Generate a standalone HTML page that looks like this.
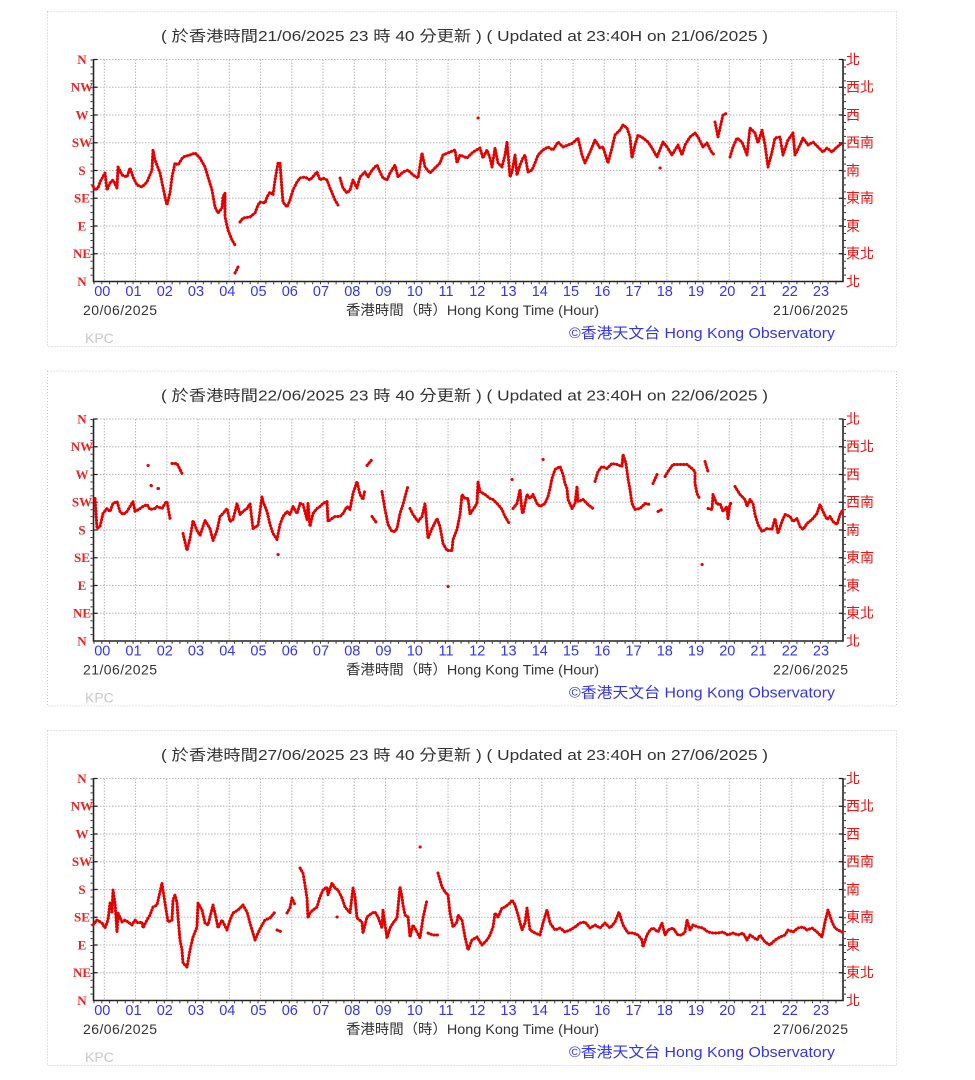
<!DOCTYPE html>
<html>
<head>
<meta charset="utf-8">
<style>
html,body{margin:0;padding:0;background:#fff;}
svg{display:block;}
.t{font-family:"Liberation Sans","Noto Sans CJK TC",sans-serif;}
.title{font-size:15px;fill:#333;}
.hr{font-size:14.5px;fill:#3434f0;text-anchor:middle;}
.dt{font-size:14px;fill:#333;}
.lab{font-size:14px;fill:#333;}
.cp{font-size:15px;fill:#3434f0;}
.kpc{font-size:14px;fill:#c8c8c8;}
.ll{font-family:"Liberation Serif",serif;font-weight:bold;font-size:13px;fill:#f02020;text-anchor:middle;}
.rl{font-family:"Noto Sans CJK TC","WenQuanYi Zen Hei",sans-serif;font-size:14px;fill:#f01010;}
.grid{stroke:#b8b8b8;stroke-width:1;stroke-dasharray:1.5 1.5;fill:none;}
.ax{stroke:#222;stroke-width:1.6;fill:none;}
.d{fill:none;stroke:#e60000;stroke-width:3;stroke-linecap:round;stroke-linejoin:round;stroke-dasharray:0.5 2.6;}
.h{fill:none;stroke:#ff9c9c;stroke-width:4.6;stroke-linejoin:round;opacity:0.3;}
.o{fill:none;stroke:#e60000;stroke-width:3;stroke-linecap:round;}
</style>
</head>
<body>
<svg width="975" height="1080" viewBox="0 0 975 1080" xmlns="http://www.w3.org/2000/svg">
<defs>
<g id="frame">
<rect x="47.5" y="11.5" width="849" height="335" fill="none" stroke="#c8c8c8" stroke-width="1" stroke-dasharray="1 2"/>
<path class="grid" d="M94 59.5H843M94 87.25H843M94 115H843M94 142.75H843M94 170.5H843M94 198.25H843M94 226H843M94 253.75H843"/>
<path class="grid" d="M104.3 59.5V281M135.55 59.5V281M166.8 59.5V281M198.05 59.5V281M229.3 59.5V281M260.55 59.5V281M291.8 59.5V281M323.05 59.5V281M354.3 59.5V281M385.55 59.5V281M416.8 59.5V281M448.05 59.5V281M479.3 59.5V281M510.55 59.5V281M541.8 59.5V281M573.05 59.5V281M604.3 59.5V281M635.55 59.5V281M666.8 59.5V281M698.05 59.5V281M729.3 59.5V281M760.55 59.5V281M791.8 59.5V281M823.05 59.5V281"/>
<path class="ax" d="M93.5 59V282M843 59V282M93 281.5H843.8"/>
<path stroke="#222" stroke-width="1.2" d="M93.5 59.5h4M93.5 87.25h4M93.5 115h4M93.5 142.75h4M93.5 170.5h4M93.5 198.25h4M93.5 226h4M93.5 253.75h4M843 59.5h-4M843 87.25h-4M843 115h-4M843 142.75h-4M843 170.5h-4M843 198.25h-4M843 226h-4M843 253.75h-4"/>
<line x1="91.5" y1="59.5" x2="91.5" y2="281" stroke="#333" stroke-width="2" stroke-dasharray="1 5.94"/>
<line x1="845" y1="59.5" x2="845" y2="281" stroke="#333" stroke-width="2" stroke-dasharray="1 5.94"/>
<line x1="93.5" y1="283.2" x2="843" y2="283.2" stroke="#333" stroke-width="2" stroke-dasharray="1 6.81"/>
</g>
</defs>

<!-- PANEL 1 -->
<g>
<use href="#frame"/>
<text class="t title" x="161" y="41" textLength="607" lengthAdjust="spacingAndGlyphs">( 於香港時間21/06/2025 23 時 40 分更新 ) ( Updated at 23:40H on 21/06/2025 )</text>
<text class="ll" x="82" y="64">N</text><text class="ll" x="82" y="91.7">NW</text><text class="ll" x="82" y="119.5">W</text><text class="ll" x="82" y="147.2">SW</text><text class="ll" x="82" y="175">S</text><text class="ll" x="82" y="202.7">SE</text><text class="ll" x="82" y="230.5">E</text><text class="ll" x="82" y="258.2">NE</text><text class="ll" x="82" y="286">N</text>
<text class="rl" x="846" y="64.5">北</text><text class="rl" x="846" y="92.2">西北</text><text class="rl" x="846" y="120">西</text><text class="rl" x="846" y="147.7">西南</text><text class="rl" x="846" y="175.5">南</text><text class="rl" x="846" y="203.2">東南</text><text class="rl" x="846" y="231">東</text><text class="rl" x="846" y="258.7">東北</text><text class="rl" x="846" y="286.5">北</text>
<g class="t hr"><text x="102.3" y="296">00</text><text x="133.5" y="296">01</text><text x="164.8" y="296">02</text><text x="196" y="296">03</text><text x="227.3" y="296">04</text><text x="258.5" y="296">05</text><text x="289.8" y="296">06</text><text x="321" y="296">07</text><text x="352.3" y="296">08</text><text x="383.5" y="296">09</text><text x="414.8" y="296">10</text><text x="446" y="296">11</text><text x="477.3" y="296">12</text><text x="508.5" y="296">13</text><text x="539.8" y="296">14</text><text x="571" y="296">15</text><text x="602.3" y="296">16</text><text x="633.5" y="296">17</text><text x="664.8" y="296">18</text><text x="696" y="296">19</text><text x="727.3" y="296">20</text><text x="758.5" y="296">21</text><text x="789.8" y="296">22</text><text x="821" y="296">23</text></g>
<text class="t dt" x="83" y="315" textLength="74">20/06/2025</text>
<text class="t dt" x="773" y="315" textLength="75">21/06/2025</text>
<text class="t lab" x="346" y="315" textLength="253" lengthAdjust="spacingAndGlyphs">香港時間（時）Hong Kong Time (Hour)</text>
<text class="t cp" x="569" y="338" textLength="266" lengthAdjust="spacingAndGlyphs">©香港天文台 Hong Kong Observatory</text>
<text class="t kpc" x="85" y="343">KPC</text>
<path id="d1" class="d" d="M93 186L95 190L98 188L100 182L105 173L107 190L110 183L113 180L117 188L118 167L122 175L127 177L130 168L133 177L137 185L142 187L147 182L152 170L153 150L155 160L160 173L165 197L167 205L170 193L172 177L175 163L178 165L183 157L190 155L195 153L200 158L205 167L208 177L212 190L215 207L218 213L222 208L223 197L225 193L225 217L228 230L232 240L235 245M235 273L238 267M240 222L243 218L250 217L255 213L258 205L260 202L265 203L267 197L270 192L273 195L275 180L278 163L280 163L282 190L283 202L287 207L290 200L293 190L297 182L300 178L305 177L310 180L317 172L320 180L323 178L327 180L330 188L335 200L338 205M340 178L343 188L347 193L350 190L353 180L357 188L360 177L365 172L368 177L372 170L377 165L380 172L383 178L387 180L390 173L395 165L398 177L403 172L408 170L413 175L418 178L422 153L425 167L430 173L435 168L440 163L443 155L450 152L455 150L457 163L460 155L467 158L473 152L480 148L483 158L487 150L490 158L492 167L495 148L498 163L502 167L505 155L507 142L510 177L512 172L515 155L517 175L520 165L523 158L525 155L528 172L532 170L535 163L538 155L543 150L548 147L553 150L558 142L563 147L568 145L573 143L578 138L582 155L585 163L590 152L595 140L600 148L603 147L608 163L612 148L615 135L620 130L623 125L627 128L630 137L632 158L635 145L638 135L643 138L648 142L652 148L657 157L663 142L667 147L672 155L675 150L678 145L682 155L685 145L690 137L695 133L698 137L703 147L707 143L712 153L715 155M715 122L718 137L723 115L727 113M730 157L733 147L737 138L742 142L747 155L750 128L755 133L758 143L762 130L765 145L768 167L772 152L775 138L780 137L783 155L788 140L793 133L795 155L800 145L803 138L808 145L813 142L818 147L823 152L827 148L832 152L837 147L842 143"/>
<use href="#d1" class="h"/>
<path class="o" d="M478 118h0.2M660 168h0.2"/>
</g>

<!-- PANEL 2 -->
<g transform="translate(0,359.5)">
<use href="#frame"/>
<text class="t title" x="161" y="41" textLength="607" lengthAdjust="spacingAndGlyphs">( 於香港時間22/06/2025 23 時 40 分更新 ) ( Updated at 23:40H on 22/06/2025 )</text>
<text class="ll" x="82" y="64">N</text><text class="ll" x="82" y="91.7">NW</text><text class="ll" x="82" y="119.5">W</text><text class="ll" x="82" y="147.2">SW</text><text class="ll" x="82" y="175">S</text><text class="ll" x="82" y="202.7">SE</text><text class="ll" x="82" y="230.5">E</text><text class="ll" x="82" y="258.2">NE</text><text class="ll" x="82" y="286">N</text>
<text class="rl" x="846" y="64.5">北</text><text class="rl" x="846" y="92.2">西北</text><text class="rl" x="846" y="120">西</text><text class="rl" x="846" y="147.7">西南</text><text class="rl" x="846" y="175.5">南</text><text class="rl" x="846" y="203.2">東南</text><text class="rl" x="846" y="231">東</text><text class="rl" x="846" y="258.7">東北</text><text class="rl" x="846" y="286.5">北</text>
<g class="t hr"><text x="102.3" y="296">00</text><text x="133.5" y="296">01</text><text x="164.8" y="296">02</text><text x="196" y="296">03</text><text x="227.3" y="296">04</text><text x="258.5" y="296">05</text><text x="289.8" y="296">06</text><text x="321" y="296">07</text><text x="352.3" y="296">08</text><text x="383.5" y="296">09</text><text x="414.8" y="296">10</text><text x="446" y="296">11</text><text x="477.3" y="296">12</text><text x="508.5" y="296">13</text><text x="539.8" y="296">14</text><text x="571" y="296">15</text><text x="602.3" y="296">16</text><text x="633.5" y="296">17</text><text x="664.8" y="296">18</text><text x="696" y="296">19</text><text x="727.3" y="296">20</text><text x="758.5" y="296">21</text><text x="789.8" y="296">22</text><text x="821" y="296">23</text></g>
<text class="t dt" x="83" y="315" textLength="74">21/06/2025</text>
<text class="t dt" x="773" y="315" textLength="75">22/06/2025</text>
<text class="t lab" x="346" y="315" textLength="253" lengthAdjust="spacingAndGlyphs">香港時間（時）Hong Kong Time (Hour)</text>
<text class="t cp" x="569" y="338" textLength="266" lengthAdjust="spacingAndGlyphs">©香港天文台 Hong Kong Observatory</text>
<text class="t kpc" x="85" y="343">KPC</text>
<path id="d2" class="d" d="M95 139L97 169L100 167L103 154L107 149L110 152L113 144L117 142L120 152L123 155L127 152L130 147L133 142L135 152L140 149L143 147L147 145L150 150L155 149L157 147L162 149L165 144L167 142L170 159M151 126L153 127M158 129L159 129M172 104L177 104L180 110L182 114M183 174L187 191L190 179L193 161L197 171L200 176L205 161L210 169L213 181L217 171L220 157L223 154L227 149L230 162L233 160L237 144L240 155L243 152L247 149L250 144L253 169L258 166L262 137L263 142L267 152L270 165L273 174L277 180L280 165L283 157L287 152L290 155L293 147L297 154L300 144L303 145L307 160L308 144L310 167L313 154L317 149L320 147L323 144L327 142L328 162L332 159L335 157L340 157L343 154L347 147L350 150L353 134L357 122L360 135L363 140L365 130M367 106L372 100M372 157L377 164M382 132L385 150L388 165L392 172L395 172L397 169L400 154L403 145L407 130L408 127M410 149L413 155L418 162L422 157L425 144L428 179L432 169L437 159L440 167L443 184L447 191L452 191L453 180L457 170L460 155L462 135L465 139L468 139L470 155L473 150L477 144L478 122L480 132L485 135L490 139L493 140L498 145L502 150L505 157L508 162L510 165M513 149L517 144L520 130L522 152L523 154L527 135L530 139L533 135L537 144L540 147L545 144L548 137L550 129L552 119L555 110L560 107L563 115L565 124L567 129L568 140L572 149L575 144L577 127L578 142L583 140L588 145L593 149M595 122L598 112L602 107L607 109L612 104L617 105L622 107L623 95L626 104L628 119L630 130L632 144L635 150L640 149L645 144L650 145M653 124L657 115M658 152L662 150M665 117L668 112L673 105L680 105L687 105L692 109L695 112L695 124L697 134L700 140M705 102L708 112M708 149L712 150L713 135L717 145L720 144L723 152L727 147L728 160L730 144L733 144M735 127L740 135L745 140L747 147L750 140L753 144L755 155L758 165L762 172L767 169L772 170L775 159L778 174L782 162L785 155L790 157L793 162L797 159L800 167L803 170L807 164L812 160L817 154L820 145L823 152L827 160L830 157L833 162L837 165L840 155L843 150"/>
<use href="#d2" class="h"/>
<path class="o" d="M148 106h0.2M278 195h0.2M448 227h0.2M512 120h0.2M543 100h0.2M702 205h0.2"/>
</g>

<!-- PANEL 3 -->
<g transform="translate(0,719)">
<use href="#frame"/>
<text class="t title" x="161" y="41" textLength="607" lengthAdjust="spacingAndGlyphs">( 於香港時間27/06/2025 23 時 40 分更新 ) ( Updated at 23:40H on 27/06/2025 )</text>
<text class="ll" x="82" y="64">N</text><text class="ll" x="82" y="91.7">NW</text><text class="ll" x="82" y="119.5">W</text><text class="ll" x="82" y="147.2">SW</text><text class="ll" x="82" y="175">S</text><text class="ll" x="82" y="202.7">SE</text><text class="ll" x="82" y="230.5">E</text><text class="ll" x="82" y="258.2">NE</text><text class="ll" x="82" y="286">N</text>
<text class="rl" x="846" y="64.5">北</text><text class="rl" x="846" y="92.2">西北</text><text class="rl" x="846" y="120">西</text><text class="rl" x="846" y="147.7">西南</text><text class="rl" x="846" y="175.5">南</text><text class="rl" x="846" y="203.2">東南</text><text class="rl" x="846" y="231">東</text><text class="rl" x="846" y="258.7">東北</text><text class="rl" x="846" y="286.5">北</text>
<g class="t hr"><text x="102.3" y="296">00</text><text x="133.5" y="296">01</text><text x="164.8" y="296">02</text><text x="196" y="296">03</text><text x="227.3" y="296">04</text><text x="258.5" y="296">05</text><text x="289.8" y="296">06</text><text x="321" y="296">07</text><text x="352.3" y="296">08</text><text x="383.5" y="296">09</text><text x="414.8" y="296">10</text><text x="446" y="296">11</text><text x="477.3" y="296">12</text><text x="508.5" y="296">13</text><text x="539.8" y="296">14</text><text x="571" y="296">15</text><text x="602.3" y="296">16</text><text x="633.5" y="296">17</text><text x="664.8" y="296">18</text><text x="696" y="296">19</text><text x="727.3" y="296">20</text><text x="758.5" y="296">21</text><text x="789.8" y="296">22</text><text x="821" y="296">23</text></g>
<text class="t dt" x="83" y="315" textLength="74">26/06/2025</text>
<text class="t dt" x="773" y="315" textLength="75">27/06/2025</text>
<text class="t lab" x="346" y="315" textLength="253" lengthAdjust="spacingAndGlyphs">香港時間（時）Hong Kong Time (Hour)</text>
<text class="t cp" x="569" y="338" textLength="266" lengthAdjust="spacingAndGlyphs">©香港天文台 Hong Kong Observatory</text>
<text class="t kpc" x="85" y="343">KPC</text>
<path id="d3" class="d" d="M93 206L97 201L102 204L105 209L108 201L110 184L112 193L113 171L115 184L117 213L118 194L122 203L125 201L128 203L132 206L135 201L138 204L142 203L143 209L147 201L150 196L153 188L157 186L160 173L162 164L163 171L165 184L168 203L172 201L173 181L175 176L177 184L178 198L180 221L182 231L183 244L187 248L190 231L193 218L197 208L198 184L202 191L205 204L208 206L213 186L215 194L218 209L222 201L227 211L230 201L233 194L238 191L243 186L247 193L250 204L255 221L258 214L262 206L265 201L270 199L275 193M277 211L282 213M287 194L290 189L292 179L295 186M300 149L303 154L305 166L307 179L308 199L310 194L313 191L317 188L320 178L323 171L327 168L328 176L332 164L335 169L338 171L342 179L345 188L350 194L353 169L355 178L357 199L362 203L363 214L367 198L372 194L375 193L378 198L382 209L383 191L387 219L390 209L393 204L397 199L400 168L402 178L403 186L405 196L408 198L410 218L413 206L417 213L420 219L423 199L427 181M428 214L433 216L438 216M438 154L442 168L445 173L448 176L450 194L453 208L457 203L458 196L462 201L465 218L468 231L472 221L477 218L482 226L487 221L490 216L493 208L495 194L498 198L502 189L505 188L510 184L512 181L515 186L518 196L522 211L525 204L527 189L530 211L535 214L540 216L543 204L547 191L550 204L555 211L560 209L565 213L570 211L575 208L580 204L585 203L590 209L595 206L600 209L605 204L610 209L615 203L619 193L623 206L628 214L633 214L638 216L642 221L643 228L647 216L650 211L653 209L658 213L662 204L665 216L668 211L673 209L678 216L682 216L685 213L687 201L690 211L693 206L698 208L703 209L708 213L713 214L718 214L723 213L728 216L733 214L738 216L743 214L747 221L750 216L753 218L757 221L760 216L765 223L770 226L775 221L780 218L785 216L788 211L793 213L798 209L803 208L807 211L812 209L817 213L822 218L825 203L828 191L832 203L835 209L838 211L842 213"/>
<use href="#d3" class="h"/>
<path class="o" d="M337 198h0.2M420 128h0.2"/>
</g>
</svg>
</body>
</html>
